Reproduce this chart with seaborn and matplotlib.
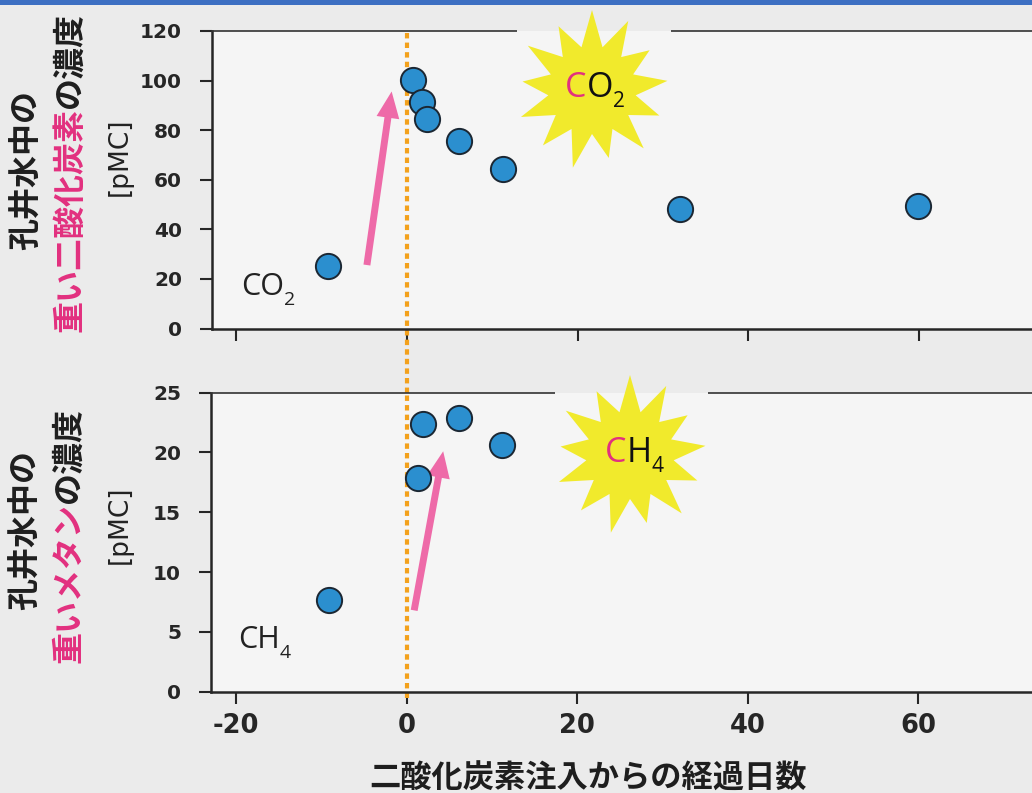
import numpy as np
import pandas as pd
import matplotlib
matplotlib.use("Agg")
import matplotlib.pyplot as plt
import seaborn as sns
from matplotlib.patches import Polygon, Rectangle, FancyArrowPatch

# ---------------- data ----------------
co2_days = [-9.3, 0.7, 1.7, 2.3, 6.1, 11.2, 32.0, 59.9]
co2_pmc = [25.3, 100.3, 91.5, 84.5, 75.7, 64.4, 48.1, 49.6]
ch4_days = [-9.1, 1.4, 1.9, 6.2, 11.2]
ch4_pmc = [7.7, 17.9, 22.4, 22.9, 20.6]

xticks = [-20, 0, 20, 40, 60]
co2_yticks = [0, 20, 40, 60, 80, 100, 120]
ch4_yticks = [0, 5, 10, 15, 20, 25]

co2_arrow_from = (-4.7, 25.6)
co2_arrow_to = (-1.8, 95.6)
ch4_arrow_from = (0.9, 6.8)
ch4_arrow_to = (4.3, 20.1)
injection_day = 0

xlabel = "二酸化炭素注入からの経過日数"
ylab_common = "孔井水中の"
co2_ylab_pink = "重い二酸化炭素"
ch4_ylab_pink = "重いメタン"
ylab_tail = "の濃度"
unit = "[pMC]"

# ---------------- style ----------------
sns.set_theme(style="ticks")
plt.rcParams["font.family"] = ["DejaVu Sans", "Noto Sans CJK JP"]
plt.rcParams["axes.unicode_minus"] = False
CJK = ["Noto Sans CJK JP", "DejaVu Sans"]
LAT = ["Open Sans", "DejaVu Sans"]

W, H = 1032, 793
BG = "#ebebeb"
AXBG = "#f5f5f5"
PINK = "#e2307f"
ARROW = "#ee6aa8"
BLUE = "#2b8fcf"
EDGE = "#1b2733"
ORANGE = "#f3a11c"
YELLOW = "#f1ea2c"
DARK = "#262626"

fig = plt.figure(figsize=(W / 100, H / 100), dpi=100, facecolor=BG)


def fx(px):
    return px / W


def fy(py):
    return 1 - py / H


ax1 = fig.add_axes([fx(212), fy(328.5), fx(1032) - fx(212), (328.5 - 31) / H])
ax2 = fig.add_axes([fx(211), fy(691.7), fx(1032) - fx(211), (691.7 - 392.7) / H])

ax1.set_xlim((212 - 407) / 8.53, (1032 - 407) / 8.53)
ax2.set_xlim((211 - 406.5) / 8.53, (1032 - 406.5) / 8.53)
ax1.set_ylim(0, 120)
ax2.set_ylim(0, 25)

for ax, xs, ys, yt in [(ax1, co2_days, co2_pmc, co2_yticks),
                       (ax2, ch4_days, ch4_pmc, ch4_yticks)]:
    ax.set_facecolor(AXBG)
    sns.scatterplot(x=xs, y=ys, ax=ax, s=330, color=BLUE, edgecolor=EDGE,
                    linewidth=1.4, zorder=6, clip_on=False, legend=False)
    ax.set_xticks(xticks)
    ax.set_yticks(yt)
    ax.spines["right"].set_visible(False)
    ax.spines["top"].set_linewidth(1.2)
    ax.spines["top"].set_color("#333333")
    for s in ("left", "bottom"):
        ax.spines[s].set_linewidth(1.8)
        ax.spines[s].set_color(DARK)
    ax.tick_params(axis="both", direction="out", length=8.5, width=1.5, color=DARK)
    ax.tick_params(axis="y", labelsize=14.5, pad=13, labelcolor=DARK)
    for lab in ax.get_yticklabels():
        lab.set_fontweight("bold")
    ax.set_xlabel("")
    ax.set_ylabel("")

ax1.tick_params(axis="x", labelbottom=False)
ax2.tick_params(axis="x", labelsize=18.5, pad=7, labelcolor=DARK)
for lab in ax2.get_xticklabels():
    lab.set_fontweight("bold")

# orange dotted injection line (crosses both panels)
ax1.axvline(injection_day, ymin=-(392.7 - 328.5) / 297.5, ymax=1, color=ORANGE,
            lw=3, ls=(0, (1.3, 1.0)), clip_on=False, zorder=2)
ax2.axvline(injection_day, ymin=-0.02, ymax=1, color=ORANGE,
            lw=3, ls=(0, (1.3, 1.0)), clip_on=False, zorder=2)

# pink arrows
for ax, a, b in [(ax1, co2_arrow_from, co2_arrow_to), (ax2, ch4_arrow_from, ch4_arrow_to)]:
    arr = FancyArrowPatch(a, b, arrowstyle="simple,head_length=1.9,head_width=1.65,tail_width=0.5",
                          mutation_scale=10, color=ARROW, lw=0, shrinkA=0, shrinkB=0, zorder=4)
    ax.add_patch(arr)

# top blue band (scan edge)
fig.add_artist(Rectangle((0, fy(5)), 1, 5 / H, transform=fig.transFigure,
                         facecolor="#3d6fc2", edgecolor="none", zorder=1))


# starbursts
def star(cx, cy, spine_y, gap):
    # hide the top spine behind the burst
    fig.add_artist(Rectangle((fx(gap[0]), fy(spine_y)), fx(gap[1] - gap[0]), 2.5 / H,
                             transform=fig.transFigure, facecolor=BG,
                             edgecolor="none", zorder=2))
    fig.add_artist(Rectangle((fx(gap[0]), fy(spine_y + 2.5)), fx(gap[1] - gap[0]), 2.5 / H,
                             transform=fig.transFigure, facecolor=AXBG,
                             edgecolor="none", zorder=2))
    n = 13
    outer = [80, 72, 78, 70, 76, 74, 80, 70, 78, 72, 76, 70, 78]
    pts = []
    for i in range(2 * n):
        ang = np.pi / 2 + i * np.pi / n
        r = outer[i // 2] if i % 2 == 0 else 44
        pts.append((fx(cx + r * np.cos(ang)), fy(cy - r * np.sin(ang))))
    fig.add_artist(Polygon(pts, closed=True, transform=fig.transFigure,
                           facecolor=YELLOW, edgecolor="none", zorder=3))


star(592, 90, 31, (517, 671))
star(630, 455, 392.7, (555, 708))

renderer = fig.canvas.get_renderer()


def hruns(x_px, y_px, runs):
    x = x_px
    for s, color, size, dy in runs:
        t = fig.text(fx(x), fy(y_px + dy), s, color=color, fontsize=size,
                     family=LAT, ha="left", va="baseline", zorder=10)
        bb = t.get_window_extent(renderer)
        x = bb.x1


def vruns(x_px, y_bottom_px, runs, size):
    y = H - y_bottom_px
    for s, color in runs:
        t = fig.text(fx(x_px), y / H, s, rotation=90, ha="center", va="bottom",
                     color=color, fontsize=size, fontweight="bold", family=CJK, zorder=10)
        bb = t.get_window_extent(renderer)
        y = bb.y1


hruns(565, 97, [("C", PINK, 24.5, 0), ("O", "#111111", 24.5, 0), ("2", "#111111", 15, 10)])
hruns(605, 462, [("C", PINK, 24.5, 0), ("H", "#111111", 24.5, 0), ("4", "#111111", 15, 10)])
hruns(241, 295, [("CO", "#222222", 22, 0), ("2", "#222222", 14, 10)])
hruns(238, 648, [("CH", "#222222", 22, 0), ("4", "#222222", 14, 10)])

# y-axis labels
vruns(27, 250, [(ylab_common, "#1e1e1e")], 23)
vruns(70, 332, [(co2_ylab_pink, PINK), (ylab_tail, "#1e1e1e")], 23)
fig.text(fx(120), fy(156.5), unit, rotation=90, ha="center", va="center",
         fontsize=19, color="#222222")

vruns(26, 610, [(ylab_common, "#1e1e1e")], 23)
vruns(69, 663, [(ch4_ylab_pink, PINK), (ylab_tail, "#1e1e1e")], 23)
fig.text(fx(120), fy(524.5), unit, rotation=90, ha="center", va="center",
         fontsize=19, color="#222222")

# x label
fig.text(fx(588), fy(779), xlabel, ha="center", va="center", fontsize=22.5,
         fontweight="bold", family=CJK, color="#1e1e1e")

fig.savefig("out.png", dpi=100, facecolor=BG)
